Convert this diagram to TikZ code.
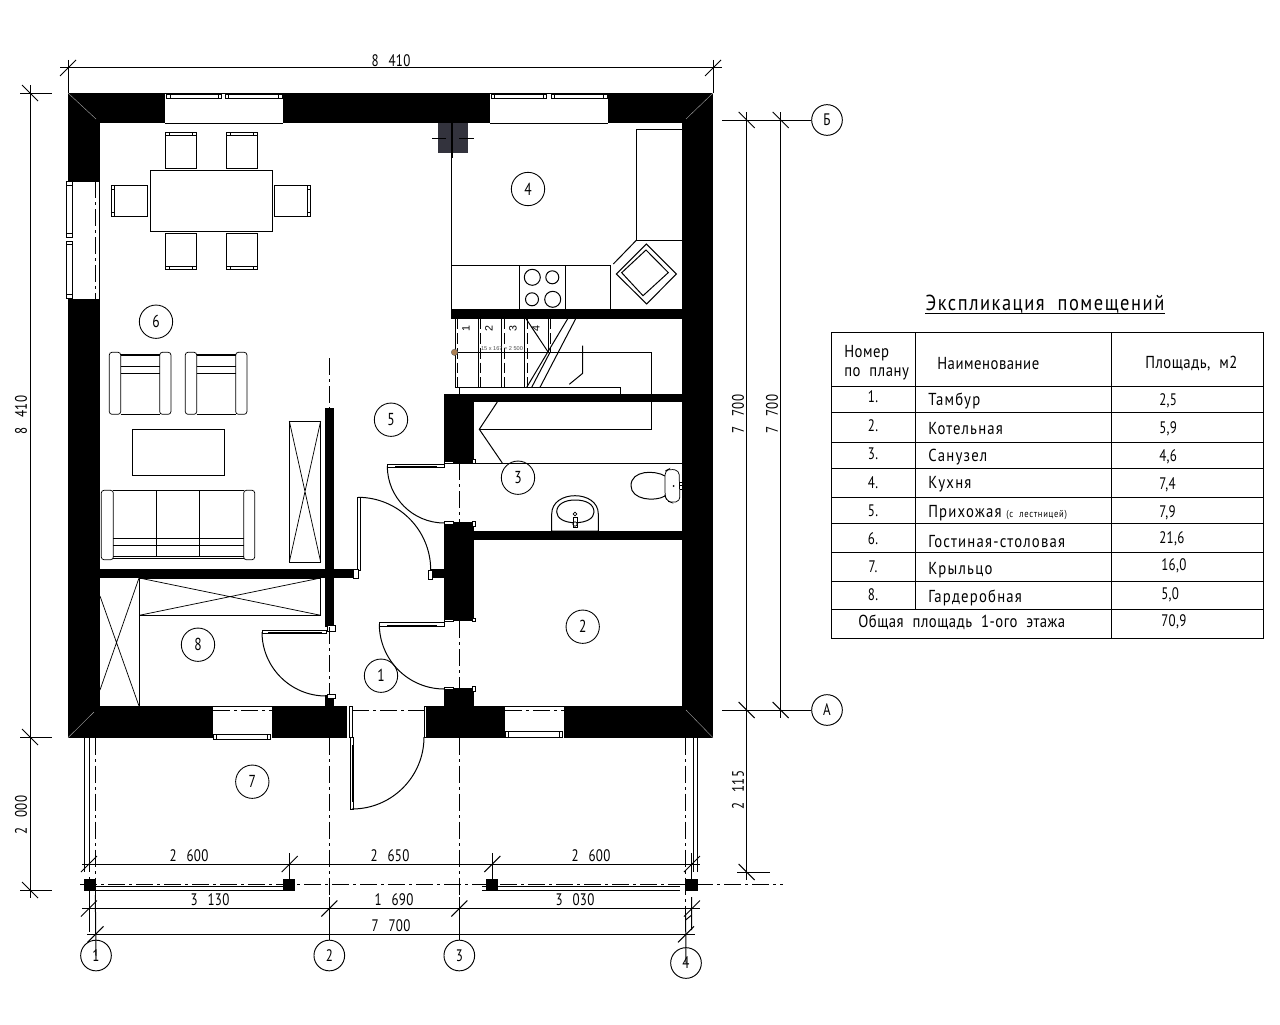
\documentclass[tikz,border=0pt]{standalone}
\usepackage{fontspec}
\newfontfamily\cadf[LetterSpace=7,WordSpace=2,FakeStretch=0.85]{PT Sans}
\newfontfamily\cadn[LetterSpace=3,WordSpace=2,FakeStretch=0.85]{PT Sans}
\newfontfamily\dimf[LetterSpace=2,WordSpace=2.6,FakeStretch=0.78]{PT Sans}
\newfontfamily\plainf{Liberation Sans}
\usetikzlibrary{calc}
\tikzset{
  ln/.style={line width=0.75pt,draw=black},
  thinl/.style={line width=0.55pt,draw=black},
  axisl/.style={line width=0.65pt,draw=black,dash pattern=on 13pt off 3pt on 2pt off 3pt},
  wall/.style={fill=black,draw=none},
  hole/.style={fill=white,draw=none},
  bar/.style={fill=white,draw=black,line width=0.55pt},
  room/.style={circle,draw=black,line width=0.65pt,minimum size=25pt,inner sep=0pt,font=\dimf\fontsize{13}{14}\selectfont},
  axb/.style={circle,draw=black,line width=0.7pt,minimum size=23pt,inner sep=0pt,font=\dimf\fontsize{12.5}{14}\selectfont},
  dimt/.style={inner sep=0pt,font=\dimf\fontsize{12.5}{13}\selectfont},
  cellt/.style={inner sep=0pt,anchor=west,font=\cadf\fontsize{13}{14}\selectfont},
  celln/.style={inner sep=0pt,anchor=west,font=\cadn\fontsize{13}{14}\selectfont},
  areat/.style={inner sep=0pt,anchor=west,font=\dimf\fontsize{12.5}{13}\selectfont},
  numt/.style={inner sep=0pt,font=\dimf\fontsize{12.5}{13}\selectfont},
}
\newcommand{\htick}[2]{\draw[ln] (#1-8,#2+8) -- (#1+8,#2-8);}
\newcommand{\vtick}[2]{\draw[ln] (#1-8,#2-8) -- (#1+8,#2+8);}
% horizontal sash: x1 x2 y1 y2
\newcommand{\hsash}[4]{\draw[bar] (#1,#3) rectangle (#2,#4);
  \draw[bar] (#1,#3) rectangle (#1+3.5,#4); \draw[bar] (#2-3.5,#3) rectangle (#2,#4);}
\newcommand{\vsash}[4]{\draw[bar] (#1,#3) rectangle (#2,#4);
  \draw[bar] (#1,#3) rectangle (#2,#3+3.5); \draw[bar] (#1,#4-3.5) rectangle (#2,#4);}
% chairs
\newcommand{\chairT}[1]{\draw[ln,fill=white] (#1,132) rectangle (#1+31.4,168);
  \draw[thinl] (#1,135.5) -- (#1+31.4,135.5) (#1+4,132) -- (#1+4,135.5) (#1+27.4,132) -- (#1+27.4,135.5);}
\newcommand{\chairB}[1]{\draw[ln,fill=white] (#1,233.3) rectangle (#1+31.4,269.7);
  \draw[thinl] (#1,266.2) -- (#1+31.4,266.2) (#1+4,266.2) -- (#1+4,269.7) (#1+27.4,266.2) -- (#1+27.4,269.7);}
% armchair
\newcommand{\armchair}[1]{
  \draw[thinl,rounded corners=2pt] (#1,352.3) rectangle (#1+11.4,414.3);
  \draw[thinl,rounded corners=2pt] (#1+50.4,352.3) rectangle (#1+61.6,414.3);
  \draw[thinl] (#1+11.4,355) -- (#1+50.4,355) (#1+11.4,366) -- (#1+50.4,366) (#1+11.4,373.3) -- (#1+50.4,373.3) (#1+11.4,414.3) -- (#1+50.4,414.3);
  \draw[line width=1pt] (#1+11.4,354.3) -- (#1+50.4,354.3);
}
\begin{document}
\begin{tikzpicture}[x=0.75pt,y=-0.75pt]
\useasboundingbox[fill=white] (0,0) rectangle (1280,1024);

% ---- walls
\fill[wall] (68,93) rectangle (713,123.3);
\fill[wall] (68,93) rectangle (100,737.7);
\fill[wall] (682,93) rectangle (713,737.7);
\fill[wall] (68,706) rectangle (713,737.7);
\fill[wall] (451,309) rectangle (682,318.7);
\fill[wall] (444,394) rectangle (682,402);
\fill[wall] (444,394) rectangle (474,463);
\fill[wall] (444,523) rectangle (474,620.7);
\fill[wall] (474,531) rectangle (682,540);
\fill[wall] (444,688) rectangle (474,706);
\fill[wall] (430,569) rectangle (444,578);
\fill[wall] (100,569) rectangle (353,578);
\fill[wall] (325,408) rectangle (334,627);
\fill[wall] (325,695) rectangle (334,706);
% mitre hints
\draw[line width=0.3pt,draw=gray!70] (68,93) -- (96,119) (713,93) -- (686,119) (68,737.7) -- (94,712) (713,737.7) -- (686,710);

% ---- openings
\fill[hole] (165,93) rectangle (283,123);
\fill[hole] (490,93) rectangle (608,123);
\fill[hole] (68,181) rectangle (100,299);
\fill[hole] (212,706) rectangle (272,737.7);
\fill[hole] (504,706) rectangle (564,737.7);
\fill[hole] (347,706) rectangle (425,737.7);
\draw[ln] (165,123.3) -- (283,123.3) (490,123.3) -- (608,123.3);
\draw[ln] (99.6,181) -- (99.6,299);
\draw[ln] (68,181) -- (100,181) (68,299) -- (100,299);
\draw[thinl] (165,93.5) -- (283,93.5) (490,93.5) -- (608,93.5);
\draw[thinl] (212,706) -- (272,706) (504,706) -- (564,706);
\draw[thinl] (212,706) -- (212,737.7) (272,706) -- (272,737.7) (504,706) -- (504,737.7) (564,706) -- (564,737.7);
% sashes
\hsash{166.7}{221.5}{94}{98}
\hsash{225}{282}{94}{98}
\hsash{491}{546.5}{94}{98}
\hsash{551}{607}{94}{98}
\vsash{66.3}{72}{181.7}{237}
\vsash{66.3}{72}{241.3}{298.3}
\hsash{213.3}{270.7}{734.3}{739}
\hsash{505.3}{562.7}{731.5}{737}

% ---- dining group
\draw[ln] (150.3,170) rectangle (272.7,231.7);
\chairT{165.3}\chairT{226.3}
\chairB{165.3}\chairB{226.3}
\draw[ln] (111.3,185.3) rectangle (147.7,216.7);
\draw[thinl] (114.8,185.3) -- (114.8,216.7) (111.3,189.3) -- (114.8,189.3) (111.3,212.7) -- (114.8,212.7);
\draw[ln] (274.3,185.3) rectangle (310.7,216.7);
\draw[thinl] (307.2,185.3) -- (307.2,216.7) (307.2,189.3) -- (310.7,189.3) (307.2,212.7) -- (310.7,212.7);

% ---- living room
\armchair{109.3}
\armchair{185.3}
\draw[ln] (132.3,429) rectangle (224.7,475.3);
\draw[thinl,rounded corners=2pt] (101.3,490.3) rectangle (113.3,559.7);
\draw[thinl,rounded corners=2pt] (243.7,490.3) rectangle (254.7,559.7);
\draw[thinl] (113.3,490.3) -- (243.7,490.3) (113.3,538.3) -- (243.7,538.3) (113.3,545.7) -- (243.7,545.7) (113.3,556.7) -- (243.7,556.7) (113.3,558.3) -- (243.7,558.3);
\draw[thinl] (156.7,490.3) -- (156.7,556.7) (199.7,490.3) -- (199.7,556.7);
\draw[ln] (289.3,421) rectangle (320.7,562);
\draw[thinl] (289.3,421) -- (320.7,562) (320.7,421) -- (289.3,562);

% ---- wardrobes
\draw[ln] (139.3,578) rectangle (320.7,615.3);
\draw[thinl] (139.3,578) -- (320.7,615.3) (320.7,578) -- (139.3,615.3);
\draw[ln] (139.3,578) -- (139.3,706);
\draw[thinl] (100,596) -- (139,706) (139,578) -- (100,690);

% ---- kitchen
\definecolor{flue}{HTML}{33333D}
\fill[flue] (438.3,123.3) rectangle (467.7,152.7);
\draw[ln] (432,138.3) -- (446,138.3) (459,138.3) -- (474,138.3);
\draw[line width=1.4pt] (451.7,123.3) -- (451.7,158);
\draw[ln] (451.7,123.3) -- (451.7,309);
\draw[ln] (636.3,129.3) -- (682,129.3) (636.3,129.3) -- (636.3,240.3) -- (682,240.3);
\draw[ln] (636.3,240.3) -- (613.3,264);
\draw[ln] (451.7,265.3) -- (610.7,265.3) -- (610.7,309);
\draw[ln] (519.3,265.3) -- (519.3,309) (565.3,265.3) -- (565.3,309);
\draw[ln] (532.3,277.3) circle[radius=8];
\draw[ln] (552.3,277.3) circle[radius=6.5];
\draw[ln] (532,299.3) circle[radius=6.5];
\draw[ln] (552.7,299.3) circle[radius=8];
\draw[ln] (646.3,244) -- (676.3,274) -- (646.7,304) -- (616.3,274) -- cycle;
\draw[ln] (646,250) -- (668.3,272.6) -- (643,295.7) -- (621.7,272.7) -- cycle;

% ---- stairs
\draw[ln] (455,318.7) -- (455,387.3) -- (620.3,387.3) -- (620.3,394);
\draw[ln] (459.3,387.3) -- (459.3,394);
\foreach \tx in {478.3,501.7}{ \draw[ln] (\tx,318.7) -- (\tx,387.3); \draw[thinl,dash pattern=on 8pt off 3pt] (\tx+2.4,318.7) -- (\tx+2.4,387.3);}
\draw[ln] (524.5,318.7) -- (524.5,387.3);
\draw[thinl,dash pattern=on 8pt off 3pt] (527,318.7) -- (527,387.3);
\draw[ln] (548.3,318.7) -- (548.3,352);
\draw[thinl,dash pattern=on 8pt off 3pt] (550.7,318.7) -- (550.7,352);
\draw[thinl,dash pattern=on 8pt off 3pt] (457.5,318.7) -- (457.5,387.3);
\draw[ln] (455,352.3) -- (651.7,352.3) -- (651.7,429.3) -- (479.3,429.3);
\fill[wall] (644,394) rectangle (660,402);
\draw[ln] (497.3,402) -- (479.3,429.3) -- (502.3,463);
\draw[ln] (526.7,387.3) -- (567.7,318.7) (531.7,387.3) -- (550,352.3) (540,387.3) -- (575.7,318.7);
\draw[ln] (526,318.7) -- (548.3,352.3);
\draw[ln] (582.7,345.7) -- (582.7,373.3) -- (569.3,384.3);
\fill[fill=brown!70!gray,draw=black!60,line width=0.3pt] (454.5,352.3) circle[radius=3.2];
\node[inner sep=0pt,rotate=90,font=\plainf\fontsize{8}{9}\selectfont] (st1) at (466,329) {1};
\node[inner sep=0pt,rotate=90,font=\plainf\fontsize{8}{9}\selectfont] (st2) at (489,329) {2};
\node[inner sep=0pt,rotate=90,font=\plainf\fontsize{8}{9}\selectfont] (st3) at (513,329) {3};
\node[inner sep=0pt,rotate=90,font=\plainf\fontsize{8}{9}\selectfont] (st4) at (536,329) {4};
\node[inner sep=0pt,text=black!70,font=\plainf\fontsize{4.2}{5}\selectfont] (stn) at (502,348.5) {15 x 167 = 2 500};

% ---- bathroom
\draw[ln] (474,463) -- (682,463);
\draw[thinl,rounded corners=3pt] (665,471) -- (669,469) -- (679,470.5) -- (680,501) -- (672,502.7) -- (667,501) -- (665,496) -- cycle;
\draw[ln] (665,476) .. controls (655,470) and (631,470) .. (631,485.7) .. controls (631,500) and (655,502) .. (665,496);
\draw[thinl] (680,482) -- (682,482) (680,485.5) -- (682,485.5) (680,489) -- (682,489);
\fill (673.7,486) circle[radius=1];
\draw[ln] (551.7,531) -- (551.7,514) .. controls (551.7,502) and (563,495.7) .. (575,495.7) .. controls (587,495.7) and (598.3,502) .. (598.3,514) -- (598.3,531) -- cycle;
\draw[ln] (556.7,512) .. controls (556.7,504) and (565,500) .. (575,500) .. controls (586,500) and (594,504) .. (594,512) .. controls (594,518) and (587,522.7) .. (575,522.7) .. controls (564,522.7) and (556.7,518) .. (556.7,512);
\draw[thinl,fill=white] (575,514) circle[radius=1.8];
\draw[thinl,fill=white] (575,524) circle[radius=2.2];
\draw[thinl] (573,517) rectangle (577,527);
\draw[thinl] (571,531) -- (571,533) (575,531) -- (575,533) (579,531) -- (579,533);

% ---- doors
% door A (bathroom)
\draw[bar] (387.3,464.3) rectangle (444.3,467.3);
\draw[line width=1pt] (395,466.5) -- (436.7,466.5);
\draw[ln] (387.3,466) arc[start angle=180,end angle=90,radius=57];
\draw[bar] (444,461.5) rectangle (453,463.5);
\draw[bar] (472,459) rectangle (475.7,463.5);
\draw[thinl] (444,463) -- (474,463);
\draw[bar] (444,521.7) rectangle (453,524);
\draw[bar] (472,521.5) rectangle (475.7,526.5);
\draw[thinl] (453,522.5) -- (472,522.5);
% door B
\draw[bar] (357.3,497.3) rectangle (360.7,570);
\draw[ln] (358,497.3) arc[start angle=-90,end angle=0,radius=72.7];
\draw[bar] (353,569) rectangle (358.7,578);
\draw[bar] (428.5,570) rectangle (432,579);
% door C
\draw[bar] (379.3,622.3) rectangle (444.3,626.3);
\draw[line width=1pt] (387.3,625.3) -- (436.7,625.3);
\draw[ln] (379.3,624) arc[start angle=180,end angle=90,radius=65];
\draw[bar] (444,619) rectangle (453,621);
\draw[bar] (472,618) rectangle (475.7,621);
\draw[thinl] (453,620.7) -- (472,620.7);
\draw[bar] (444,687) rectangle (453,689);
\draw[bar] (472,686) rectangle (475.7,691);
\draw[thinl] (453,688) -- (472,688);
% door D
\draw[bar] (262,630.3) rectangle (326,633.3);
\draw[line width=1pt] (268,632.5) -- (322,632.5);
\draw[ln] (262,632) arc[start angle=180,end angle=90,radius=64];
\draw[bar] (327,625) rectangle (335.5,631);
\draw[bar] (327,694) rectangle (335.5,698);
% door E
\draw[bar] (349,706) rectangle (352,737.7);
\draw[bar] (424,706) rectangle (426.5,737.7);
\draw[bar] (350.3,737.7) rectangle (353.7,809);
\draw[line width=1pt] (352.7,745) -- (352.7,802);
\draw[ln] (352,809) arc[start angle=90,end angle=0,radius=72];

% ---- columns and rails
\fill[wall] (84,879) rectangle (95.7,891);
\fill[wall] (282.7,879) rectangle (295,891);
\fill[wall] (486,879) rectangle (498,891);
\fill[wall] (685.3,879) rectangle (698,891);
\draw[ln] (95.7,890.3) -- (282.7,890.3) (95.7,886.7) -- (282.7,886.7);
\draw[ln] (498,890.3) -- (680,890.3) (498,886.7) -- (680,886.7) (482,886.7) -- (486,886.7) (482,890.3) -- (486,890.3);
\draw[ln] (84.5,737.7) -- (84.5,872) (89,737.7) -- (89,872);
\draw[ln] (693,737.7) -- (693,872) (697,737.7) -- (697,872);

% ---- axis bubbles
\node[axb] (b1) at (96,955.5) {1};
\node[axb] (b2) at (329.3,955.5) {2};
\node[axb] (b3) at (459.3,955.5) {3};
\node[axb] (b4) at (686,963) {4};
\node[axb] (bA) at (827,710) {А};
\node[axb] (bB) at (827,120) {Б};

% ---- axis lines
\coordinate (a1w) at (95.3,181); \coordinate (a1x) at (95.3,299);
\coordinate (a1t) at (95.3,737.7); \coordinate (a1m) at (95.3,895);
\draw[axisl] (a1w) -- (a1x);
\draw[axisl] (a1t) -- (a1m);
\draw[ln] (a1m) -- (b1.center);
\draw[ln] (89,877) -- (89,932);
\coordinate (a2a) at (329.3,358); \coordinate (a2b) at (329.3,408);
\coordinate (a2c) at (329.3,627); \coordinate (a2d) at (329.3,695);
\coordinate (a2e) at (329.3,737.7); \coordinate (a2f) at (329.3,897);
\draw[axisl] (a2a) -- (a2b); \draw[axisl] (a2c) -- (a2d); \draw[axisl] (a2e) -- (a2f);
\draw[ln] (a2f) -- (b2);
\coordinate (a3a) at (459.3,463); \coordinate (a3b) at (459.3,523);
\coordinate (a3c) at (459.3,621); \coordinate (a3d) at (459.3,688);
\coordinate (a3e) at (459.3,737.7); \coordinate (a3f) at (459.3,897);
\draw[axisl] (a3a) -- (a3b); \draw[axisl] (a3c) -- (a3d); \draw[axisl] (a3e) -- (a3f);
\draw[ln] (a3f) -- (b3);
\coordinate (a4a) at (685.6,737.7); \coordinate (a4b) at (685.6,915);
\draw[axisl] (a4a) -- (a4b);
\draw[ln] (a4b) -- (b4.center);
\draw[ln] (691.7,897) -- (691.7,930) (691.7,915) -- (685.6,920);
\coordinate (aAd) at (352,710); \coordinate (aAe) at (424,710);
\draw[axisl] (aAd) -- (aAe);
\draw[axisl] (213,710) -- (272,710);
\draw[axisl] (505,710) -- (564,710);
\coordinate (aAr) at (722,710);
\draw[ln] (aAr) -- (bA);
\coordinate (aBr) at (722,120);
\draw[ln] (aBr) -- (bB);
\draw[axisl] (80,884) -- (783,884);

% ---- dimensions: top and left
\draw[ln] (60,68) -- (722,68);
\draw[ln] (68,60) -- (68,93) (713,60) -- (713,93);
\htick{68}{68}\htick{713}{68}
\node[dimt] (d1) at (391,61) {8 410};
\draw[ln] (30,85) -- (30,898);
\draw[ln] (20,93) -- (52,93) (20,737) -- (52,737) (20,890) -- (52,890);
\vtick{30}{93}\vtick{30}{737}\vtick{30}{890}
\node[dimt,rotate=90] (d2) at (21,415) {8 410};
\node[dimt,rotate=90] (d3) at (21,815) {2 000};

% ---- dimensions: right
\draw[ln] (746.7,112) -- (746.7,880);
\draw[ln] (780.7,112) -- (780.7,718);
\draw[ln] (737,872) -- (770,872);
\vtick{746.7}{120}\vtick{780.7}{120}\vtick{746.7}{710}\vtick{780.7}{710}\vtick{746.7}{872}
\node[dimt,rotate=90] (d4) at (738,414) {7 700};
\node[dimt,rotate=90] (d5) at (772,414) {7 700};
\node[dimt,rotate=90] (d6) at (738,790) {2 115};

% ---- dimensions: bottom
\draw[ln] (82,864) -- (700,864);
\draw[ln] (289.7,853) -- (289.7,879) (492.3,853) -- (492.3,879) (691.7,853) -- (691.7,879);
\htick{89}{864}\htick{289.7}{864}\htick{492.3}{864}\htick{692}{864}
\node[dimt] (d7) at (189,856) {2 600};
\node[dimt] (d8) at (390,856) {2 650};
\node[dimt] (d9) at (591,856) {2 600};
\draw[ln] (82,908.5) -- (700,908.5);
\htick{89}{908.5}\htick{329.3}{908.5}\htick{459.3}{908.5}\htick{692}{908.5}
\node[dimt] (d10) at (210,900) {3 130};
\node[dimt] (d11) at (394,900) {1 690};
\node[dimt] (d12) at (575,900) {3 030};
\draw[ln] (87,934.3) -- (695,934.3);
\htick{95.5}{934.3}\htick{686}{934.3}
\node[dimt] (d13) at (391,926) {7 700};

% ---- room numbers
\node[room] (r1) at (381,675.7) {1};
\node[room] (r2) at (582.7,626.7) {2};
\node[room] (r3) at (518,477.7) {3};
\node[room] (r4) at (528,189) {4};
\node[room] (r5) at (391,419.7) {5};
\node[room] (r6) at (156,321.7) {6};
\node[room] (r7) at (252.3,781.7) {7};
\node[room] (r8) at (198,644.7) {8};

% ---- table
\node[inner sep=0pt,font=\cadf\fontsize{16.3}{18}\selectfont] (title) at (1045,304.5) {Экспликация помещений};
\draw[line width=0.9pt] (925,313.5) -- (1165,313.5);
\draw[ln] (831.3,332.3) rectangle (1263.7,638.7);
\draw[ln] (915.3,332.3) -- (915.3,609.3) (1111.3,332.3) -- (1111.3,638.7);
\foreach \ry in {386.7,412.3,442.3,468.3,497.3,523.3,552.3,581.3,609.3}{\draw[ln] (831.3,\ry) -- (1263.7,\ry);}
\node[celln] (h1) at (844,353.5) {Номер};
\node[celln] (h2) at (844,373.5) {по плану};
\node[celln] (h3) at (937,364) {Наименование};
\node[celln] (h4) at (1145,364) {Площадь, м2};
\node[numt] (n1) at (873,397) {1.};
\node[numt] (n2) at (873,425.5) {2.};
\node[numt] (n3) at (873,454) {3.};
\node[numt] (n4) at (873,482.5) {4.};
\node[numt] (n5) at (873,510.5) {5.};
\node[numt] (n6) at (873,538.5) {6.};
\node[numt] (n7) at (873,566.5) {7.};
\node[numt] (n8) at (873,595) {8.};
\node[cellt] (t1) at (928,400.7) {Тамбур};
\node[cellt] (t2) at (928,429) {Котельная};
\node[cellt] (t3) at (928,456.7) {Санузел};
\node[cellt] (t4) at (928,484.7) {Кухня};
\node[cellt] (t5) at (928,513) {Прихожая};
\node[cellt,font=\cadf\fontsize{7.6}{9}\selectfont] (t5b) at (1006,515) {(с лестницей)};
\node[cellt] (t6) at (928,541.7) {Гостиная-столовая};
\node[cellt] (t7) at (928,570) {Крыльцо};
\node[cellt] (t8) at (928,598) {Гардеробная};
\node[areat] (a1) at (1159,400.7) {2,5};
\node[areat] (a2) at (1159,428.5) {5,9};
\node[areat] (a3) at (1159,456.7) {4,6};
\node[areat] (a4) at (1159,484.7) {7,4};
\node[areat] (a5) at (1159,513) {7,9};
\node[areat] (a6) at (1159,538.7) {21,6};
\node[areat] (a7) at (1161,566) {16,0};
\node[areat] (a8) at (1161,595) {5,0};
\node[areat] (a9) at (1161,622) {70,9};
\node[celln] (tot) at (858,622) {Общая площадь 1-ого этажа};
\end{tikzpicture}
\end{document}
